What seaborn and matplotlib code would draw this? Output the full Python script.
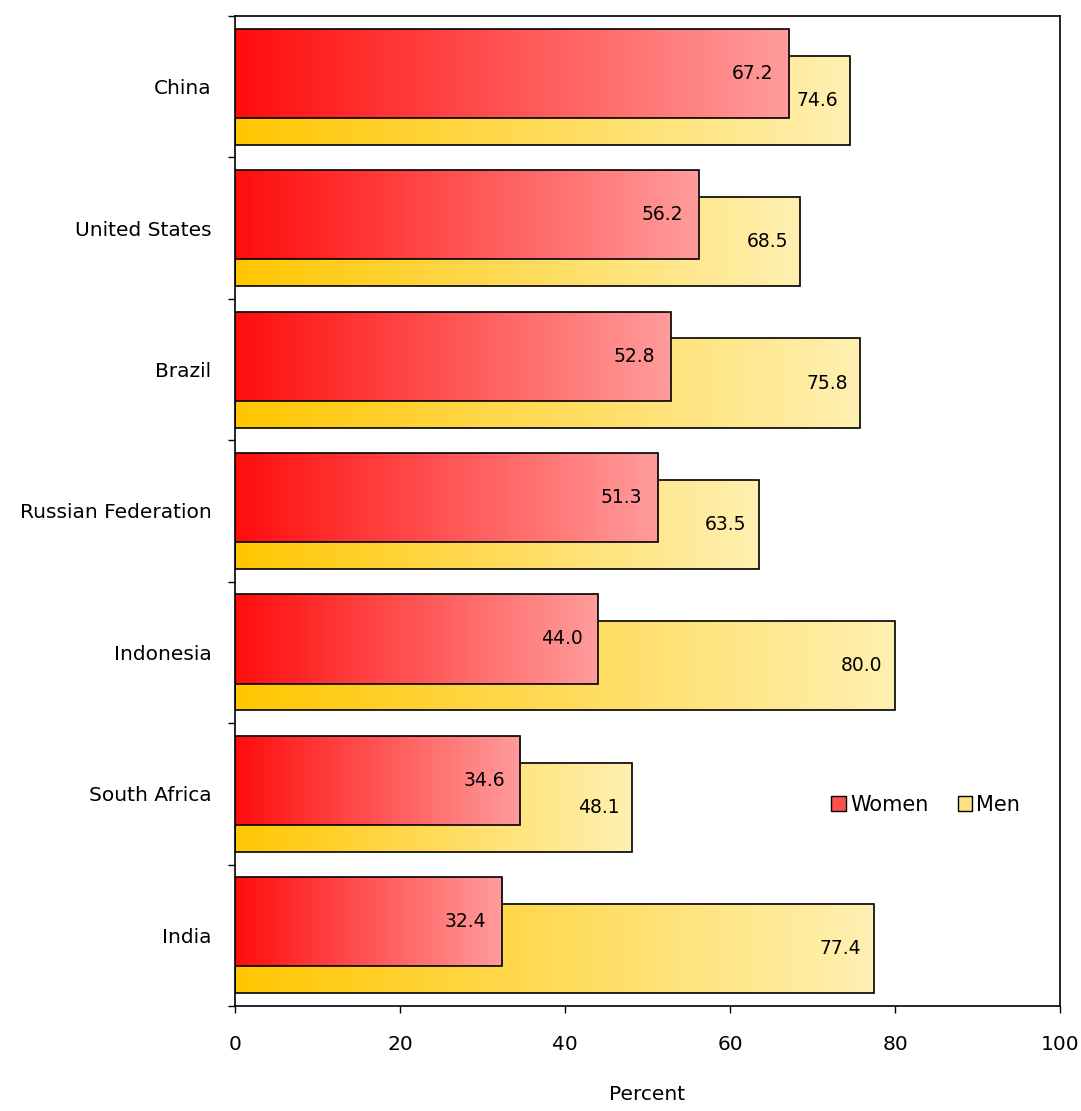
import numpy as np
import pandas as pd
import matplotlib
matplotlib.use("Agg")
import matplotlib.pyplot as plt
import seaborn as sns
from matplotlib.colors import LinearSegmentedColormap
from matplotlib.patches import Patch

# data
countries = ["China", "United States", "Brazil", "Russian Federation",
             "Indonesia", "South Africa", "India"]
women = [67.2, 56.2, 52.8, 51.3, 44.0, 34.6, 32.4]
men = [74.6, 68.5, 75.8, 63.5, 80.0, 48.1, 77.4]
x_ticks = [0, 20, 40, 60, 80, 100]

df = pd.DataFrame({"Country": countries, "Women": women, "Men": men})

sns.set_style("ticks")
plt.rcParams['font.family'] = ['DejaVu Sans']
plt.rcParams['text.color'] = 'black'
plt.rcParams['axes.labelcolor'] = 'black'
plt.rcParams['xtick.color'] = 'black'
plt.rcParams['ytick.color'] = 'black'

women_cmap = LinearSegmentedColormap.from_list("w", ["#FF0D0D", "#FF9C9C"])
men_cmap = LinearSegmentedColormap.from_list("m", ["#FFC600", "#FFF0B2"])

fig = plt.figure(figsize=(10.81, 11.11), dpi=100)
ax = fig.add_axes([235 / 1081, 1 - 1006 / 1111, 825 / 1081, 990 / 1111])

bar_h = 0.63
shift = 0.095

# men bars first (behind), then women bars on top
sns.barplot(data=df, y="Country", x="Men", orient="h", width=bar_h, ax=ax,
            color="#FFE080", saturation=1)
n_men = len(ax.patches)
sns.barplot(data=df, y="Country", x="Women", orient="h", width=bar_h, ax=ax,
            color="#FF6060", saturation=1)

grad = np.linspace(0, 1, 256).reshape(1, -1)
for i, p in enumerate(ax.patches):
    is_men = i < n_men
    p.set_y(p.get_y() + (shift if is_men else -shift))
    base_z = 1 if is_men else 3
    x0, y0, w, h = p.get_x(), p.get_y(), p.get_width(), p.get_height()
    im = ax.imshow(grad, extent=[x0, x0 + w, y0 + h, y0], aspect="auto",
                   cmap=men_cmap if is_men else women_cmap,
                   interpolation="bilinear", zorder=base_z)
    im.set_clip_path(p)
    p.set_facecolor("none")
    p.set_edgecolor("black")
    p.set_linewidth(1.2)
    p.set_zorder(base_z + 1)

# value labels
for i, (w_val, m_val) in enumerate(zip(women, men)):
    ax.text(w_val - 1.9, i - shift, f"{w_val:.1f}", ha="right", va="center",
            fontsize=13.5, zorder=6)
    ax.text(m_val - 1.5, i + shift, f"{m_val:.1f}", ha="right", va="center",
            fontsize=13.5, zorder=6)

ax.set_xlim(0, 100)
ax.set_ylim(len(countries) - 0.5, -0.5)
ax.set_xticks(x_ticks)
ax.set_xticklabels([str(t) for t in x_ticks], fontsize=14.5)
ax.tick_params(axis="x", length=5, width=1, pad=16)
ax.set_yticks(range(len(countries)))
ax.set_yticklabels(countries, fontsize=14.5)
ax.tick_params(axis="y", which="major", length=0, pad=17)
ax.set_yticks(np.arange(-0.5, len(countries), 1.0), minor=True)
ax.tick_params(axis="y", which="minor", length=5, width=1)
ax.set_ylabel("")
ax.set_xlabel("Percent", fontsize=14.5, labelpad=22)

for s in ax.spines.values():
    s.set_visible(True)
    s.set_color("black")
    s.set_linewidth(1.2)

handles = [Patch(facecolor="#FF5050", edgecolor="black", label="Women"),
           Patch(facecolor="#FFE080", edgecolor="black", label="Men")]
ax.legend(handles=handles, loc="center left", bbox_to_anchor=(0.7, 0.203),
          ncol=2, frameon=False, fontsize=15, handlelength=0.7,
          handleheight=0.7, handletextpad=0.2, columnspacing=1.4)

fig.savefig("out.png", dpi=100)
